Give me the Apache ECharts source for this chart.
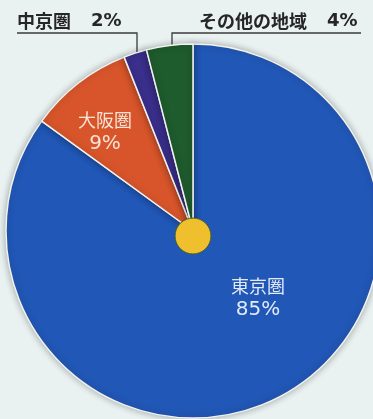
<!DOCTYPE html>
<html><head><meta charset="utf-8">
<script src="https://cdn.jsdelivr.net/npm/echarts@6/dist/echarts.min.js"></script>
<style>html,body{margin:0;padding:0;background:#e9f1f1;}#c{width:373px;height:419px;}</style>
</head><body><div id="c"></div>
<script>
const categories = ['東京圏', '大阪圏', '中京圏', 'その他の地域'];
const shares = [85, 9, 2, 4];
const sliceColors = ['#2157b6', '#d8552b', '#3a2f8b', '#1e5b2d'];

// label placement (layout only)
const labelPlace = [
  {x: 258, y: 298, align: 'center'},
  {x: 105, y: 132, align: 'center'},
  {x: 17, y: 21, align: 'left', line: [[137, 56], [137, 33], [17, 33]]},
  {x: 199, y: 21, align: 'left', line: [[172, 63], [172, 33], [361, 33]]}
];

const chart = echarts.init(document.getElementById('c'), null, {renderer: 'canvas'});
function insideLabel(col) {
  return {
    show: true, position: 'inside', formatter: '{n|{b}}\n{p|{c}%}',
    rich: {
      n: {fontFamily: '"Noto Sans CJK JP"', fontSize: 18, lineHeight: 23, color: col},
      p: {fontFamily: '"DejaVu Sans"', fontSize: 20, lineHeight: 23, color: col}
    }
  };
}
const outsideLabel = {
  show: true, position: 'outside', formatter: '{n|{b}}{p|{c}%}',
  rich: {
    n: {fontFamily: '"Noto Sans CJK JP"', fontSize: 18, fontWeight: 'bold', color: '#262626'},
    p: {fontFamily: '"DejaVu Sans"', fontSize: 18, fontWeight: 'bold', color: '#262626', padding: [0, 0, 0, 20]}
  }
};
const data = categories.map((n, i) => ({
  name: n, value: shares[i],
  itemStyle: {color: sliceColors[i]},
  label: i < 2 ? insideLabel(i === 0 ? '#e3eaf7' : '#f7e4d6') : outsideLabel,
  labelLine: i < 2 ? {show: false} : {show: true, lineStyle: {color: '#3c3c3c', width: 1.3}}
}));

chart.setOption({
  backgroundColor: '#e9f1f1',
  animation: false,
  series: [{
    type: 'pie',
    center: [193, 231],
    radius: [0, 187],
    startAngle: 90,
    clockwise: true,
    avoidLabelOverlap: false,
    itemStyle: {borderColor: '#f2f2ee', borderWidth: 1.5, shadowBlur: 7, shadowColor: 'rgba(0,0,0,0.3)'},
    data: data,
    labelLayout: function (p) {
      const L = labelPlace[p.dataIndex];
      const o = {x: L.x, y: L.y, align: L.align, verticalAlign: 'middle'};
      if (L.line) o.labelLinePoints = L.line;
      return o;
    }
  }, {
    type: 'pie',
    center: [193, 236],
    radius: [0, 18],
    silent: true,
    label: {show: false},
    labelLine: {show: false},
    itemStyle: {color: '#efbf2e', borderColor: '#3f5e2c', borderWidth: 1},
    data: [{name: 'center', value: 1}]
  }]
});
</script>
</body></html>
